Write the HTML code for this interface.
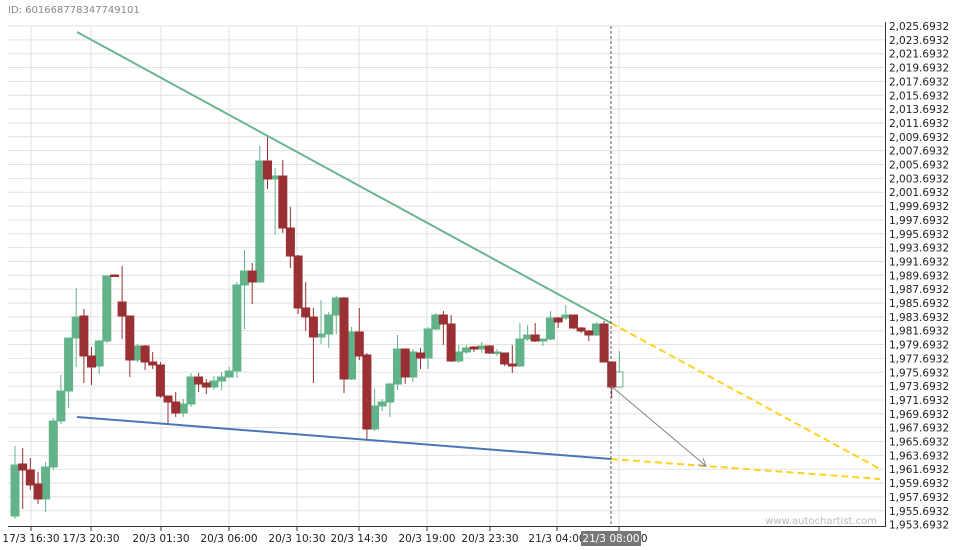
<!DOCTYPE html>
<html><head><meta charset="utf-8"><style>
body{margin:0;background:#fff;}
svg{display:block;font-family:"DejaVu Sans","Liberation Sans",sans-serif;}
</style></head><body>
<svg width="960" height="550" viewBox="0 0 960 550" xmlns="http://www.w3.org/2000/svg">
<rect width="960" height="550" fill="#fff"/>
<text x="8" y="13" font-size="10" fill="#888">ID: 601668778347749101</text>
<g stroke="#e2e2e2" stroke-width="1">
<line x1="8" x2="885" y1="26" y2="26"/><line x1="8" x2="885" y1="39.85" y2="39.85"/><line x1="8" x2="885" y1="53.7" y2="53.7"/><line x1="8" x2="885" y1="67.55" y2="67.55"/><line x1="8" x2="885" y1="81.4" y2="81.4"/><line x1="8" x2="885" y1="95.25" y2="95.25"/><line x1="8" x2="885" y1="109.1" y2="109.1"/><line x1="8" x2="885" y1="122.95" y2="122.95"/><line x1="8" x2="885" y1="136.8" y2="136.8"/><line x1="8" x2="885" y1="150.65" y2="150.65"/><line x1="8" x2="885" y1="164.5" y2="164.5"/><line x1="8" x2="885" y1="178.35" y2="178.35"/><line x1="8" x2="885" y1="192.2" y2="192.2"/><line x1="8" x2="885" y1="206.05" y2="206.05"/><line x1="8" x2="885" y1="219.9" y2="219.9"/><line x1="8" x2="885" y1="233.75" y2="233.75"/><line x1="8" x2="885" y1="247.6" y2="247.6"/><line x1="8" x2="885" y1="261.45" y2="261.45"/><line x1="8" x2="885" y1="275.3" y2="275.3"/><line x1="8" x2="885" y1="289.15" y2="289.15"/><line x1="8" x2="885" y1="303" y2="303"/><line x1="8" x2="885" y1="316.85" y2="316.85"/><line x1="8" x2="885" y1="330.7" y2="330.7"/><line x1="8" x2="885" y1="344.55" y2="344.55"/><line x1="8" x2="885" y1="358.4" y2="358.4"/><line x1="8" x2="885" y1="372.25" y2="372.25"/><line x1="8" x2="885" y1="386.1" y2="386.1"/><line x1="8" x2="885" y1="399.95" y2="399.95"/><line x1="8" x2="885" y1="413.8" y2="413.8"/><line x1="8" x2="885" y1="427.65" y2="427.65"/><line x1="8" x2="885" y1="441.5" y2="441.5"/><line x1="8" x2="885" y1="455.35" y2="455.35"/><line x1="8" x2="885" y1="469.2" y2="469.2"/><line x1="8" x2="885" y1="483.05" y2="483.05"/><line x1="8" x2="885" y1="496.9" y2="496.9"/><line x1="8" x2="885" y1="510.75" y2="510.75"/>
<line x1="31" x2="31" y1="26" y2="526"/><line x1="91" x2="91" y1="26" y2="526"/><line x1="161" x2="161" y1="26" y2="526"/><line x1="229" x2="229" y1="26" y2="526"/><line x1="297" x2="297" y1="26" y2="526"/><line x1="359" x2="359" y1="26" y2="526"/><line x1="427" x2="427" y1="26" y2="526"/><line x1="490" x2="490" y1="26" y2="526"/><line x1="557" x2="557" y1="26" y2="526"/><line x1="619" x2="619" y1="26" y2="526"/>
</g>
<text x="877" y="524" font-size="10" fill="#bbb" text-anchor="end">www.autochartist.com</text>
<!-- candles -->
<g id="c">
<g stroke="#63b38a" fill="#63b38a">
<line x1="15" x2="15" y1="446" y2="519"/><rect x="11" y="465" width="8" height="51"/>
<line x1="45.6" x2="45.6" y1="462" y2="512"/><rect x="41.6" y="467" width="8" height="32"/>
<line x1="53.3" x2="53.3" y1="418" y2="470"/><rect x="49.3" y="421" width="8" height="46"/>
<line x1="60.9" x2="60.9" y1="375" y2="424"/><rect x="56.9" y="391" width="8" height="30"/>
<line x1="68.6" x2="68.6" y1="338" y2="408"/><rect x="64.6" y="338" width="8" height="53"/>
<line x1="76.2" x2="76.2" y1="288" y2="367"/><rect x="72.2" y="317" width="8" height="21"/>
<line x1="99.2" x2="99.2" y1="340" y2="374"/><rect x="95.2" y="341" width="8" height="25"/>
<line x1="106.8" x2="106.8" y1="275" y2="343"/><rect x="102.8" y="276" width="8" height="65"/>
<line x1="137.4" x2="137.4" y1="344" y2="362"/><rect x="133.4" y="346" width="8" height="14"/>
<line x1="183.3" x2="183.3" y1="399" y2="417"/><rect x="179.3" y="404" width="8" height="9"/>
<line x1="191" x2="191" y1="373" y2="407"/><rect x="187" y="377" width="8" height="27"/>
<line x1="213.9" x2="213.9" y1="376" y2="390"/><rect x="209.9" y="381" width="8" height="6"/>
<line x1="221.6" x2="221.6" y1="372" y2="390"/><rect x="217.6" y="377" width="8" height="4"/>
<line x1="229.2" x2="229.2" y1="367" y2="378"/><rect x="225.2" y="371" width="8" height="6"/>
<line x1="236.9" x2="236.9" y1="282" y2="378"/><rect x="232.9" y="285" width="8" height="86"/>
<line x1="244.5" x2="244.5" y1="250" y2="329"/><rect x="240.5" y="271" width="8" height="14"/>
<line x1="259.8" x2="259.8" y1="146" y2="282"/><rect x="255.8" y="161" width="8" height="121"/>
<line x1="275.1" x2="275.1" y1="168" y2="235"/><rect x="271.1" y="176" width="8" height="3"/>
<line x1="321" x2="321" y1="300" y2="344"/><rect x="317" y="334" width="8" height="3"/>
<line x1="328.7" x2="328.7" y1="312" y2="348"/><rect x="324.7" y="315" width="8" height="19"/>
<line x1="336.3" x2="336.3" y1="296" y2="334"/><rect x="332.3" y="298" width="8" height="17"/>
<line x1="351.6" x2="351.6" y1="327" y2="380"/><rect x="347.6" y="332" width="8" height="47"/>
<line x1="374.6" x2="374.6" y1="389" y2="431"/><rect x="370.6" y="406" width="8" height="23"/>
<line x1="382.2" x2="382.2" y1="399" y2="411"/><rect x="378.2" y="402" width="8" height="4"/>
<line x1="389.9" x2="389.9" y1="383" y2="417"/><rect x="385.9" y="384" width="8" height="18"/>
<line x1="397.5" x2="397.5" y1="335" y2="390"/><rect x="393.5" y="349" width="8" height="35"/>
<line x1="412.8" x2="412.8" y1="349" y2="382"/><rect x="408.8" y="352" width="8" height="25"/>
<line x1="428.1" x2="428.1" y1="327" y2="369"/><rect x="424.1" y="329" width="8" height="29"/>
<line x1="435.8" x2="435.8" y1="313" y2="330"/><rect x="431.8" y="315" width="8" height="14"/>
<line x1="458.7" x2="458.7" y1="345" y2="363"/><rect x="454.7" y="352" width="8" height="9"/>
<line x1="466.4" x2="466.4" y1="345" y2="354"/><rect x="462.4" y="348" width="8" height="4"/>
<line x1="481.7" x2="481.7" y1="342" y2="353"/><rect x="477.7" y="346" width="8" height="3"/>
<line x1="497" x2="497" y1="349" y2="356"/><rect x="493" y="352" width="8" height="1.5"/>
<line x1="519.9" x2="519.9" y1="323" y2="367"/><rect x="515.9" y="339" width="8" height="27"/>
<line x1="527.6" x2="527.6" y1="325" y2="341"/><rect x="523.6" y="335" width="8" height="4"/>
<line x1="542.9" x2="542.9" y1="339" y2="346"/><rect x="538.9" y="339" width="8" height="2"/>
<line x1="550.5" x2="550.5" y1="311" y2="340"/><rect x="546.5" y="318" width="8" height="21"/>
<line x1="565.8" x2="565.8" y1="305" y2="320"/><rect x="561.8" y="315" width="8" height="3"/>
<line x1="596.4" x2="596.4" y1="322" y2="336"/><rect x="592.4" y="324" width="8" height="11"/>
<line x1="619.4" x2="619.4" y1="351" y2="372"/><rect x="615.9" y="372" width="7" height="15" fill="#fff"/>
</g>
<g stroke="#9a3034" fill="#9a3034">
<line x1="22.7" x2="22.7" y1="448" y2="509"/><rect x="18.7" y="464" width="8" height="6"/>
<line x1="30.3" x2="30.3" y1="458" y2="490"/><rect x="26.3" y="470" width="8" height="15"/>
<line x1="38" x2="38" y1="472" y2="504"/><rect x="34" y="484" width="8" height="15"/>
<line x1="83.9" x2="83.9" y1="309" y2="383"/><rect x="79.9" y="316" width="8" height="40"/>
<line x1="91.5" x2="91.5" y1="347" y2="385"/><rect x="87.5" y="356" width="8" height="11"/>
<line x1="114.5" x2="114.5" y1="275" y2="277"/><rect x="110.5" y="275" width="8" height="1.5"/>
<line x1="122.1" x2="122.1" y1="266" y2="339"/><rect x="118.1" y="302" width="8" height="14"/>
<line x1="129.8" x2="129.8" y1="316" y2="377"/><rect x="125.8" y="316" width="8" height="44"/>
<line x1="145.1" x2="145.1" y1="345" y2="370"/><rect x="141.1" y="346" width="8" height="16"/>
<line x1="152.7" x2="152.7" y1="352" y2="369"/><rect x="148.7" y="362" width="8" height="3"/>
<line x1="160.4" x2="160.4" y1="362" y2="398"/><rect x="156.4" y="365" width="8" height="31"/>
<line x1="168" x2="168" y1="396" y2="424"/><rect x="164" y="396" width="8" height="6"/>
<line x1="175.7" x2="175.7" y1="392" y2="417"/><rect x="171.7" y="402" width="8" height="11"/>
<line x1="198.6" x2="198.6" y1="373" y2="392"/><rect x="194.6" y="377" width="8" height="7"/>
<line x1="206.3" x2="206.3" y1="379" y2="394"/><rect x="202.3" y="383" width="8" height="4"/>
<line x1="252.2" x2="252.2" y1="263" y2="304"/><rect x="248.2" y="271" width="8" height="11"/>
<line x1="267.5" x2="267.5" y1="136" y2="189"/><rect x="263.5" y="161" width="8" height="18"/>
<line x1="282.8" x2="282.8" y1="160" y2="233"/><rect x="278.8" y="176" width="8" height="52"/>
<line x1="290.4" x2="290.4" y1="207" y2="268"/><rect x="286.4" y="228" width="8" height="28"/>
<line x1="298.1" x2="298.1" y1="255" y2="314"/><rect x="294.1" y="256" width="8" height="52"/>
<line x1="305.7" x2="305.7" y1="282" y2="331"/><rect x="301.7" y="308" width="8" height="9"/>
<line x1="313.4" x2="313.4" y1="308" y2="383"/><rect x="309.4" y="317" width="8" height="20"/>
<line x1="344" x2="344" y1="297" y2="393"/><rect x="340" y="298" width="8" height="81"/>
<line x1="359.3" x2="359.3" y1="308" y2="360"/><rect x="355.3" y="332" width="8" height="24"/>
<line x1="366.9" x2="366.9" y1="353" y2="439"/><rect x="362.9" y="355" width="8" height="74"/>
<line x1="405.2" x2="405.2" y1="349" y2="384"/><rect x="401.2" y="349" width="8" height="28"/>
<line x1="420.5" x2="420.5" y1="348" y2="369"/><rect x="416.5" y="353" width="8" height="5"/>
<line x1="443.4" x2="443.4" y1="311" y2="345"/><rect x="439.4" y="315" width="8" height="9"/>
<line x1="451.1" x2="451.1" y1="315" y2="362"/><rect x="447.1" y="324" width="8" height="37"/>
<line x1="474" x2="474" y1="346" y2="352"/><rect x="470" y="347" width="8" height="2"/>
<line x1="489.3" x2="489.3" y1="345" y2="354"/><rect x="485.3" y="346" width="8" height="7"/>
<line x1="504.6" x2="504.6" y1="353" y2="366"/><rect x="500.6" y="353" width="8" height="11"/>
<line x1="512.3" x2="512.3" y1="345" y2="373"/><rect x="508.3" y="364" width="8" height="2"/>
<line x1="535.2" x2="535.2" y1="323" y2="342"/><rect x="531.2" y="335" width="8" height="6"/>
<line x1="558.2" x2="558.2" y1="317" y2="328"/><rect x="554.2" y="318" width="8" height="4"/>
<line x1="573.5" x2="573.5" y1="315" y2="329"/><rect x="569.5" y="315" width="8" height="13"/>
<line x1="581.1" x2="581.1" y1="327" y2="333"/><rect x="577.1" y="328" width="8" height="3"/>
<line x1="588.8" x2="588.8" y1="330" y2="341"/><rect x="584.8" y="331" width="8" height="4"/>
<line x1="604.1" x2="604.1" y1="321" y2="362"/><rect x="600.1" y="324" width="8" height="38"/>
<line x1="611.7" x2="611.7" y1="362" y2="398"/><rect x="607.7" y="362" width="8" height="25"/>
</g>
</g>
<!-- trend lines -->
<line x1="77" y1="32" x2="611" y2="323" stroke="#6ab58f" stroke-width="2"/>
<line x1="77" y1="417" x2="611" y2="459" stroke="#4a76b8" stroke-width="2"/>
<line x1="611" y1="323" x2="880" y2="469" stroke="#ffd21f" stroke-width="2" stroke-dasharray="7,4"/>
<line x1="611" y1="459" x2="880" y2="479" stroke="#ffd21f" stroke-width="2" stroke-dasharray="7,4"/>
<line x1="611" y1="26" x2="611" y2="526" stroke="#555" stroke-width="1" stroke-dasharray="3,2"/>
<line x1="611" y1="386" x2="706" y2="466" stroke="#888" stroke-width="1"/>
<polyline points="698,465 706,466 703,458" fill="none" stroke="#888" stroke-width="1"/>
<!-- axes -->
<line x1="885.5" y1="22" x2="885.5" y2="526" stroke="#333" stroke-width="1"/>
<line x1="8" y1="526.5" x2="886" y2="526.5" stroke="#333" stroke-width="1"/>
<g font-size="10.5" fill="#222">
<text x="889" y="30">2,025.6932</text><text x="889" y="43.85">2,023.6932</text><text x="889" y="57.7">2,021.6932</text><text x="889" y="71.55">2,019.6932</text><text x="889" y="85.4">2,017.6932</text><text x="889" y="99.25">2,015.6932</text><text x="889" y="113.1">2,013.6932</text><text x="889" y="126.95">2,011.6932</text><text x="889" y="140.8">2,009.6932</text><text x="889" y="154.65">2,007.6932</text><text x="889" y="168.5">2,005.6932</text><text x="889" y="182.35">2,003.6932</text><text x="889" y="196.2">2,001.6932</text><text x="889" y="210.05">1,999.6932</text><text x="889" y="223.9">1,997.6932</text><text x="889" y="237.75">1,995.6932</text><text x="889" y="251.6">1,993.6932</text><text x="889" y="265.45">1,991.6932</text><text x="889" y="279.3">1,989.6932</text><text x="889" y="293.15">1,987.6932</text><text x="889" y="307">1,985.6932</text><text x="889" y="320.85">1,983.6932</text><text x="889" y="334.7">1,981.6932</text><text x="889" y="348.55">1,979.6932</text><text x="889" y="362.4">1,977.6932</text><text x="889" y="376.25">1,975.6932</text><text x="889" y="390.1">1,973.6932</text><text x="889" y="403.95">1,971.6932</text><text x="889" y="417.8">1,969.6932</text><text x="889" y="431.65">1,967.6932</text><text x="889" y="445.5">1,965.6932</text><text x="889" y="459.35">1,963.6932</text><text x="889" y="473.2">1,961.6932</text><text x="889" y="487.05">1,959.6932</text><text x="889" y="500.9">1,957.6932</text><text x="889" y="514.75">1,955.6932</text><text x="889" y="528.6">1,953.6932</text>
</g>
<g stroke="#333" stroke-width="1">
<line x1="31" x2="31" y1="526" y2="531"/><line x1="91" x2="91" y1="526" y2="531"/><line x1="161" x2="161" y1="526" y2="531"/><line x1="229" x2="229" y1="526" y2="531"/><line x1="297" x2="297" y1="526" y2="531"/><line x1="359" x2="359" y1="526" y2="531"/><line x1="427" x2="427" y1="526" y2="531"/><line x1="490" x2="490" y1="526" y2="531"/><line x1="557" x2="557" y1="526" y2="531"/><line x1="619" x2="619" y1="526" y2="531"/>
</g>
<g font-size="10.5" fill="#222" text-anchor="middle">
<text x="31" y="542">17/3 16:30</text><text x="91" y="542">17/3 20:30</text><text x="161" y="542">20/3 01:30</text><text x="229" y="542">20/3 06:00</text><text x="297" y="542">20/3 10:30</text><text x="359" y="542">20/3 14:30</text><text x="427" y="542">20/3 19:00</text><text x="490" y="542">20/3 23:30</text><text x="557" y="542">21/3 04:00</text><text x="619" y="542">21/3 08:30</text>
</g>
<rect x="581" y="531" width="60" height="15" fill="#777"/>
<text x="611" y="542" font-size="10.5" fill="#fff" text-anchor="middle">21/3 08:00</text>
</svg>
</body></html>
